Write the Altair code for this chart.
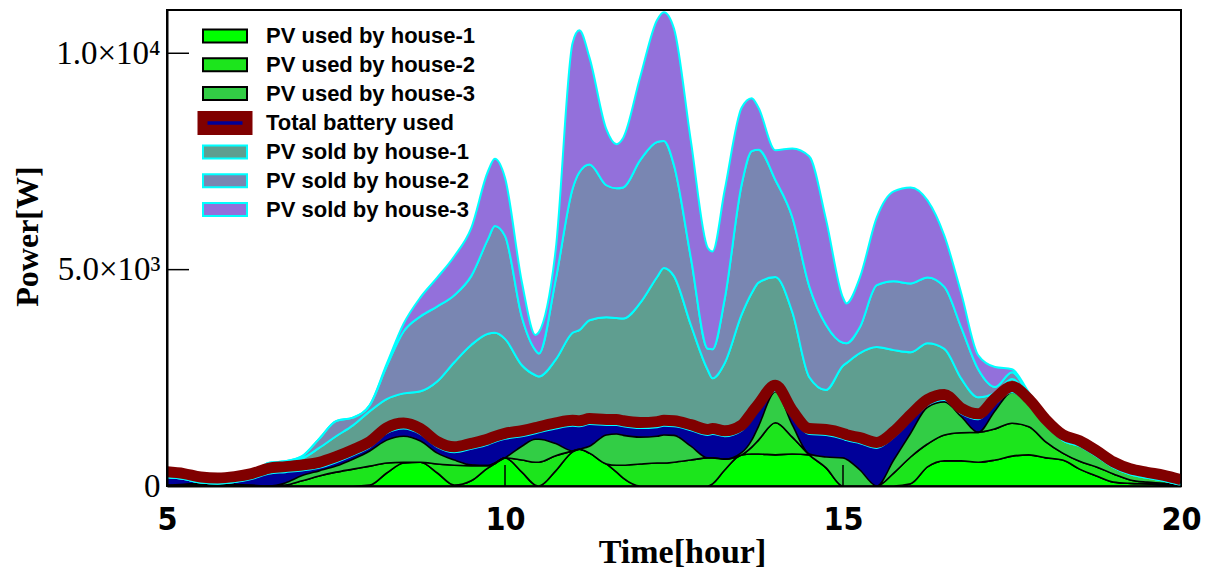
import altair as alt
import pandas as pd

# Time axis (hours) and power per layer (W), in stacking order from the bottom up
hours = [5.0, 5.25, 5.5, 5.75, 6.0, 6.25, 6.5, 6.75, 7.0, 7.25, 7.5, 7.75, 8.0, 8.25, 8.5,
         8.75, 9.0, 9.25, 9.5, 9.75, 9.85, 10.0, 10.25, 10.45, 10.5, 10.75, 11.0, 11.1, 11.25,
         11.5, 11.65, 11.75, 12.0, 12.25, 12.35, 12.5, 12.75, 13.0, 13.07, 13.25, 13.5, 13.65,
         13.75, 14.0, 14.25, 14.5, 14.75, 15.0, 15.05, 15.25, 15.5, 15.75, 16.0, 16.25, 16.5,
         16.75, 17.0, 17.25, 17.5, 17.75, 18.0, 18.25, 18.5, 18.75, 19.0, 19.25, 19.5, 19.75, 20.0]

pv_used_house1 = [0, 0, 20, 20, 0, 0, 0, 0, 0, 0, 0, 0, 20, 300, 530,
                  550, 300, 20, 120, 420, 510, 650, 320, 20, 0, 350, 790, 850, 760,
                  510, 320, 180, 0, 0, 0, 0, 0, 0, 50, 370, 720, 740,
                  740, 720, 740, 720, 420, 0, 0, 0, 0, 0, 50, 440, 580,
                  580, 550, 600, 690, 720, 650, 600, 390, 230, 90, 60, 50, 30, 10]
pv_used_house2 = [0, 20, 20, 20, 20, 0, 0, 20, 120, 230, 320, 390, 440, 230, 20,
                  0, 210, 460, 350, 50, 20, 0, 280, 530, 550, 350, 20, 0, 0,
                  0, 160, 300, 510, 530, 530, 550, 600, 650, 600, 250, 0, 160,
                  320, 740, 390, 0, 0, 0, 0, 0, 0, 300, 620, 530, 600,
                  650, 690, 720, 760, 650, 370, 160, 180, 210, 190, 80, 40, 30, 0]
pv_used_house3 = [20, 20, 20, 20, 20, 20, 0, 50, 120, 120, 140, 230, 350, 530, 600,
                  490, 250, 120, 20, 0, 0, 0, 320, 530, 530, 280, 0, 0, 160,
                  670, 720, 690, 620, 620, 650, 620, 320, 0, 0, 0, 50, 160,
                  320, 720, 280, 20, 250, 650, 620, 370, 0, 300, 550, 850, 760,
                  370, 0, 420, 720, 510, 390, 300, 350, 250, 150, 130, 100, 60, 10]
battery_used = [180, 120, 20, 0, 50, 140, 280, 250, 120, 70, 90, 90, 90, 160, 180,
                160, 140, 180, 370, 490, 490, 440, 230, 140, 160, 350, 580, 530, 510,
                230, 210, 210, 210, 210, 210, 210, 370, 530, 550, 530, 510, 510,
                390, 20, 210, 460, 510, 440, 440, 620, 880, 530, 300, 50, 50,
                70, 300, 160, 0, 0, 0, 0, 0, 0, 0, 0, 0, 0, 0]
pv_sold_house1 = [0, 0, 0, 0, 0, 70, 250, 250, 280, 460, 600, 690, 830, 790, 810,
                  990, 1520, 2080, 2400, 2560, 2520, 2310, 1640, 1340, 1290, 1590, 2150, 2220, 2400,
                  2490, 2470, 2490, 2890, 3470, 3650, 3470, 2430, 1500, 1290, 1690, 2680, 2890,
                  2930, 2630, 2400, 1320, 1040, 1690, 1780, 2080, 2330, 2010, 1570, 1430, 1180,
                  810, 510, 250, 300, 160, 120, 0, 0, 0, 0, 0, 0, 0, 0]
pv_sold_house2 = [0, 0, 0, 0, 0, 0, 0, 0, 50, 210, 350, 180, 140, 760, 1430,
                  1730, 1730, 1550, 1590, 2190, 2470, 2380, 1110, 580, 530, 1850, 3330, 3650, 3600,
                  3050, 3000, 3030, 3300, 3120, 2930, 2560, 1550, 490, 670, 1480, 3000, 3280,
                  3070, 2240, 2190, 2100, 1500, 530, 460, 600, 1430, 1590, 1590, 1520, 1430,
                  1180, 650, 140, 160, 70, 70, 0, 0, 0, 0, 0, 0, 0, 0]
pv_sold_house3 = [0, 0, 0, 0, 0, 0, 0, 0, 0, 0, 0, 0, 0, 50, 180,
                  440, 670, 900, 1110, 1570, 1550, 1340, 810, 350, 490, 690, 3370, 3280, 2470,
                  1290, 1020, 1150, 1920, 2820, 2980, 3160, 2700, 2330, 2260, 2520, 1780, 1220,
                  970, 690, 1590, 3000, 2430, 1040, 920, 1150, 1570, 2080, 2220, 1780, 1180,
                  790, 320, 460, 70, 50, 50, 0, 0, 0, 0, 0, 0, 0, 0]

series_names = ["PV used by house-1", "PV used by house-2", "PV used by house-3",
                "Total battery used",
                "PV sold by house-1", "PV sold by house-2", "PV sold by house-3"]
series_values = [pv_used_house1, pv_used_house2, pv_used_house3, battery_used,
                 pv_sold_house1, pv_sold_house2, pv_sold_house3]

used_colors = ["#00FF00", "#1CE51C", "#32CD45"]
sold_colors = ["#5F9E90", "#7986B2", "#9370DB"]
battery_fill = "#000099"
battery_edge = "#800000"

x_ticks = [5, 10, 15, 20]
y_ticks = [0, 5000, 10000]
y_tick_labels = ["0", "5.0×10³", "1.0×10⁴"]

# Cumulative lower/upper bounds of every layer of the stack
rows = []
base = [0.0] * len(hours)
for name, vals in zip(series_names, series_values):
    for t, b, v in zip(hours, base, vals):
        rows.append({"hour": t, "series": name, "lower": b, "upper": b + v})
    base = [b + v for b, v in zip(base, vals)]
stack = pd.DataFrame(rows)

used_names = series_names[:3]
battery_name = series_names[3]
sold_names = series_names[4:]
used_df = stack[stack["series"].isin(used_names)]
battery_df = stack[stack["series"] == battery_name]
sold_df = stack[stack["series"].isin(sold_names)]

label_expr = " : ".join(
    f"datum.value == {v} ? '{s}'" for v, s in zip(y_ticks[:-1], y_tick_labels[:-1])
) + f" : '{y_tick_labels[-1]}'"

x_axis = alt.Axis(values=x_ticks, format="d", ticks=False, grid=False, labelFlush=False,
                  labelFont="Liberation Sans Narrow, DejaVu Sans Condensed, sans-serif",
                  labelFontSize=32, labelFontWeight="bold", labelColor="black", labelPadding=18,
                  domainColor="black", domainWidth=2, zindex=1,
                  title="Time[hour]", titleFont="Liberation Serif", titleFontSize=34,
                  titleFontWeight="bold", titleColor="black", titleX=515, titleY=49)
y_axis = alt.Axis(values=y_ticks, labelExpr=label_expr, ticks=False, grid=False,
                  labelFont="Liberation Serif", labelFontSize=33, labelColor="black",
                  labelPadding=7, domainColor="black", domainWidth=2, zindex=1,
                  title="Power[W]", titleFont="Liberation Serif", titleFontSize=32,
                  titleFontWeight="bold", titleColor="black", titleX=-123, titleY=226)

x_enc = alt.X("hour:Q", scale=alt.Scale(domain=[5, 20], nice=False, zero=False), axis=x_axis)
y_enc = alt.Y("upper:Q", scale=alt.Scale(domain=[0, 11000], nice=False), axis=y_axis)

# legend swatch shapes (unit = half of sqrt(symbolSize) = 11 px)
rect_path = "M-2,-0.59H2V0.59H-2Z"
bar_path = "M-2.5,-1.09H2.5V1.09H-2.5Z"
thin_path = "M-1.59,-0.16H1.59V0.16H-1.59Z"

legend_common = dict(orient="none", title=None, symbolSize=484, padding=0, rowPadding=5.8,
                     labelFont="Liberation Sans", labelFontSize=22, labelFontWeight="bold",
                     labelColor="black", labelLimit=400)

used_legend = alt.Legend(symbolType=rect_path, symbolStrokeWidth=2, legendX=46, legendY=14,
                         labelOffset=29, **legend_common)
battery_bar_legend = alt.Legend(symbolType=bar_path, symbolStrokeWidth=0, legendX=47, legendY=102,
                                labelOffset=30, zindex=1, **legend_common)
battery_line_legend = alt.Legend(symbolType=thin_path, symbolStrokeWidth=0, legendX=47, legendY=102,
                                 labelOffset=30, labelOpacity=0, zindex=2, **legend_common)
sold_legend = alt.Legend(symbolType=rect_path, symbolStrokeWidth=2, legendX=46, legendY=130,
                         labelOffset=29, **legend_common)

battery_layer = alt.Chart(battery_df).mark_area(interpolate="monotone", clip=True).encode(
    x=x_enc, y=y_enc, y2=alt.Y2("lower:Q"),
    fill=alt.Fill("series:N", scale=alt.Scale(domain=[battery_name], range=[battery_fill]),
                  legend=battery_line_legend),
)

used_layer = alt.Chart(used_df).mark_area(interpolate="monotone", clip=True, strokeWidth=1.6).encode(
    x=x_enc, y=y_enc, y2=alt.Y2("lower:Q"),
    fill=alt.Fill("series:N", scale=alt.Scale(domain=used_names, range=used_colors),
                  legend=used_legend),
    stroke=alt.Stroke("series:N", scale=alt.Scale(domain=used_names, range=["black"] * 3),
                      legend=used_legend),
)

sold_layer = alt.Chart(sold_df).mark_area(interpolate="monotone", clip=True, strokeWidth=2).encode(
    x=x_enc, y=y_enc, y2=alt.Y2("lower:Q"),
    fill=alt.Fill("series:N", scale=alt.Scale(domain=sold_names, range=sold_colors),
                  legend=sold_legend),
    stroke=alt.Stroke("series:N", scale=alt.Scale(domain=sold_names, range=["#00FFFF"] * 3),
                      legend=sold_legend),
)

# zero-height area along the battery top: carries the battery key swatch
battery_key = alt.Chart(battery_df).mark_area(interpolate="monotone", clip=True).encode(
    x=x_enc, y=y_enc, y2=alt.Y2("upper:Q"),
    fill=alt.Fill("series:N", scale=alt.Scale(domain=[battery_name], range=[battery_edge]),
                  legend=battery_bar_legend),
)

# thick maroon edge sitting on top of the battery layer
battery_band = alt.Chart(battery_df).mark_line(
    interpolate="monotone", clip=True, color=battery_edge, strokeWidth=11, yOffset=-5.5
).encode(x=x_enc, y=y_enc)

# inward tick marks
x_tick_marks = alt.Chart(pd.DataFrame({"hour": x_ticks})).mark_rule(color="black", strokeWidth=1.5).encode(
    x=x_enc, y=alt.value(476), y2=alt.value(455)
)
y_tick_marks = alt.Chart(pd.DataFrame({"upper": y_ticks})).mark_rule(color="black", strokeWidth=1.5).encode(
    y=y_enc, x=alt.value(0), x2=alt.value(22)
)

chart = alt.layer(
    battery_layer, used_layer, sold_layer, battery_key, battery_band, x_tick_marks, y_tick_marks
).resolve_scale(
    fill="independent", stroke="independent"
).properties(
    width=1014, height=476,
    padding={"left": 167, "top": 10, "right": 28, "bottom": 83},
    autosize=alt.AutoSizeParams(type="none"),
    background="white",
).configure_view(
    stroke="black", strokeWidth=2
)

chart.save("out.html", embed_options={"renderer": "svg", "actions": False})
